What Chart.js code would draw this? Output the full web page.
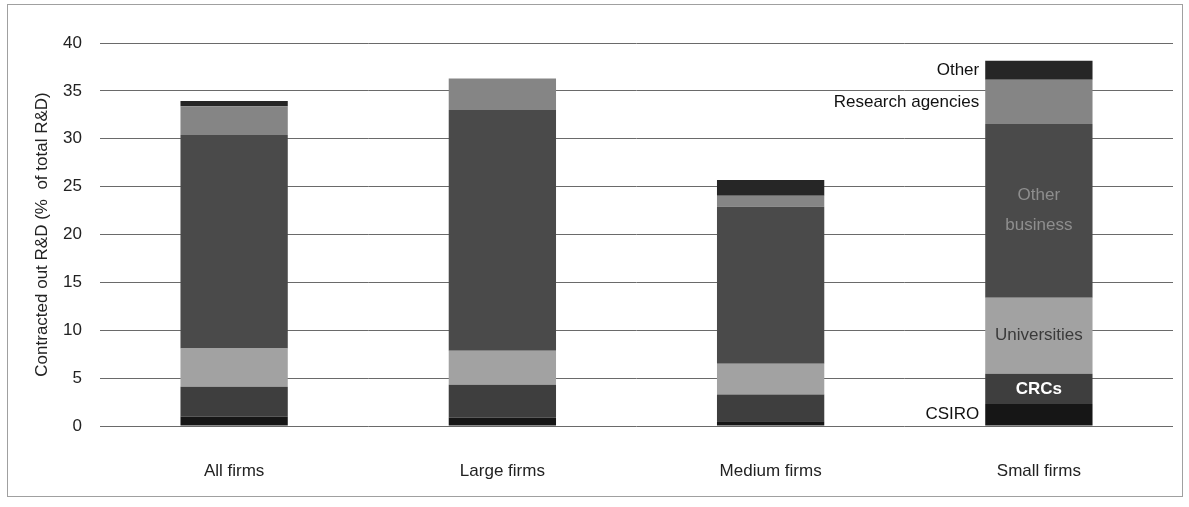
<!DOCTYPE html>
<html>
<head>
<meta charset="utf-8">
<script src="https://cdn.jsdelivr.net/npm/chart.js@4/dist/chart.umd.min.js"></script>
<style>
  html, body { margin: 0; padding: 0; background: #fff; }
  #wrap { width: 1189px; height: 507px; position: relative; }
</style>
</head>
<body>
<div id="wrap"><canvas id="rdChart" width="1189" height="507"></canvas></div>
<script>
// Contracted out R&D by firm size, % of total R&D
const categories = ['All firms', 'Large firms', 'Medium firms', 'Small firms'];
const csiro = [1.0, 0.9, 0.5, 2.3];
const crcs = [3.1, 3.4, 2.8, 3.15];
const universities = [4.0, 3.55, 3.2, 7.95];
const otherBusiness = [22.3, 25.15, 16.4, 18.15];
const researchAgencies = [3.0, 3.3, 1.15, 4.6];
const other = [0.55, 0.0, 1.65, 2.0];
const yTicks = [0, 5, 10, 15, 20, 25, 30, 35, 40];

const FONT = '"Liberation Sans", Arial, sans-serif';

// labels written next to / inside the small firms bar
const segLabels = [
  { text: ['CSIRO'], where: 'left', color: '#111' },
  { text: ['CRCs'], where: 'inside', color: '#fff', bold: true },
  { text: ['Universities'], where: 'inside', color: '#3a3a3a' },
  { text: ['Other', 'business'], where: 'inside', color: '#8e8e8e' },
  { text: ['Research agencies'], where: 'left', color: '#111' },
  { text: ['Other'], where: 'left', color: '#111' }
];

const frame = {
  id: 'frame',
  beforeDraw(chart) {
    const ctx = chart.ctx;
    ctx.save();
    ctx.strokeStyle = '#a0a0a0';
    ctx.lineWidth = 1;
    ctx.strokeRect(7.5, 4.5, 1175, 492);
    ctx.restore();
  }
};

const barLabels = {
  id: 'barLabels',
  afterDatasetsDraw(chart) {
    const ctx = chart.ctx;
    ctx.save();
    ctx.textBaseline = 'middle';
    segLabels.forEach((lab, i) => {
      const el = chart.getDatasetMeta(i).data[3];
      const { x, y, base, width } = el.getProps(['x', 'y', 'base', 'width'], true);
      const mid = (y + base) / 2;
      ctx.font = (lab.bold ? 'bold ' : '') + '17px ' + FONT;
      ctx.fillStyle = lab.color;
      const lh = 30;
      lab.text.forEach((t, k) => {
        const ty = mid + (k - (lab.text.length - 1) / 2) * lh;
        if (lab.where === 'left') {
          ctx.textAlign = 'right';
          ctx.fillText(t, x - width / 2 - 6, ty);
        } else {
          ctx.textAlign = 'center';
          ctx.fillText(t, x, ty);
        }
      });
    });
    ctx.restore();
  }
};

const seriesList = [
  { label: 'CSIRO', data: csiro, color: '#161616' },
  { label: 'CRCs', data: crcs, color: '#3e3e3e' },
  { label: 'Universities', data: universities, color: '#a2a2a2' },
  { label: 'Other business', data: otherBusiness, color: '#4a4a4a' },
  { label: 'Research agencies', data: researchAgencies, color: '#858585' },
  { label: 'Other', data: other, color: '#262626' }
];

new Chart(document.getElementById('rdChart').getContext('2d'), {
  type: 'bar',
  data: {
    labels: categories,
    datasets: seriesList.map(s => ({
      label: s.label,
      data: s.data,
      backgroundColor: s.color,
      borderWidth: 0,
      barPercentage: 0.4,
      categoryPercentage: 1.0
    }))
  },
  options: {
    responsive: false,
    animation: false,
    layout: { padding: { top: 43, right: 16, bottom: 0, left: 0 } },
    plugins: {
      legend: { display: false },
      tooltip: { enabled: false }
    },
    scales: {
      x: {
        stacked: true,
        grid: { display: false },
        border: { display: false },
        ticks: { color: '#222', font: { family: FONT, size: 17 }, padding: 27 },
        afterFit(scale) { scale.height = 81; }
      },
      y: {
        stacked: true,
        min: 0,
        max: 40,
        afterBuildTicks(scale) { scale.ticks = yTicks.map(v => ({ value: v })); },
        grid: { color: '#6a6a6a', lineWidth: 1, drawTicks: false },
        border: { display: false },
        ticks: { color: '#222', font: { family: FONT, size: 17 }, padding: 18 },
        title: {
          display: true,
          text: 'Contracted out R&D (%  of total R&D)',
          color: '#222',
          font: { family: FONT, size: 17 },
          padding: { top: 32, bottom: 0 }
        },
        afterFit(scale) { scale.width = 100; }
      }
    }
  },
  plugins: [frame, barLabels]
});
</script>
</body>
</html>
